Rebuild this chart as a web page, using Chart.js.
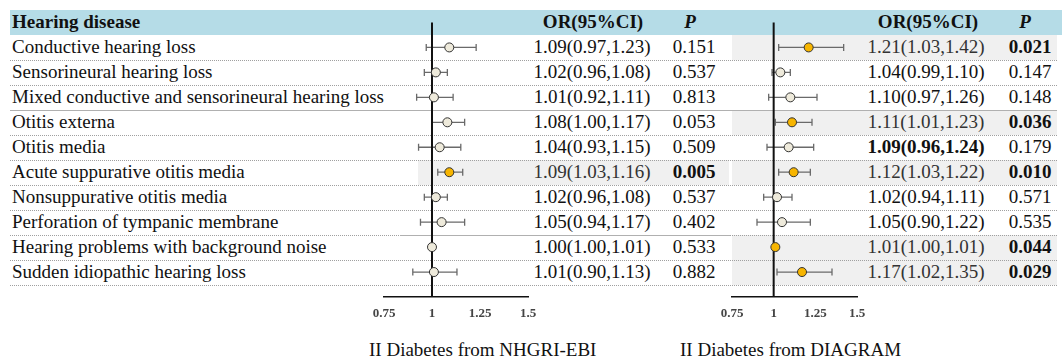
<!DOCTYPE html>
<html>
<head>
<meta charset="utf-8">
<script src="https://cdn.jsdelivr.net/npm/chart.js@4.4.1/dist/chart.umd.min.js"></script>
<style>
  body { margin: 0; background: #fff; }
  #wrap { position: relative; width: 1062px; height: 358px; overflow: hidden;
          font-family: "Liberation Serif", "Times New Roman", serif; color: #111; }
  #wrap div, #wrap span { position: absolute; }
  canvas { position: absolute; top: 0; }
  .txt { font-size: 19px; white-space: nowrap; }
</style>
</head>
<body>
<div id="wrap">
  <canvas id="leftChart" width="204" height="330" style="left:354px"></canvas>
  <canvas id="rightChart" width="165" height="330" style="left:712px"></canvas>
</div>
<script>
var diseases = [
  'Conductive hearing loss',
  'Sensorineural hearing loss',
  'Mixed conductive and sensorineural hearing loss',
  'Otitis externa',
  'Otitis media',
  'Acute suppurative otitis media',
  'Nonsuppurative otitis media',
  'Perforation of tympanic membrane',
  'Hearing problems with background noise',
  'Sudden idiopathic hearing loss'
];

// II Diabetes from NHGRI-EBI
var orLeft = [1.09, 1.02, 1.01, 1.08, 1.04, 1.09, 1.02, 1.05, 1.00, 1.01];
var loLeft = [0.97, 0.96, 0.92, 1.00, 0.93, 1.03, 0.96, 0.94, 1.00, 0.90];
var hiLeft = [1.23, 1.08, 1.11, 1.17, 1.15, 1.16, 1.08, 1.17, 1.01, 1.13];
var pLeft  = [0.151, 0.537, 0.813, 0.053, 0.509, 0.005, 0.537, 0.402, 0.533, 0.882];

// II Diabetes from DIAGRAM
var orRight = [1.21, 1.04, 1.10, 1.11, 1.09, 1.12, 1.02, 1.05, 1.01, 1.17];
var loRight = [1.03, 0.99, 0.97, 1.01, 0.96, 1.03, 0.94, 0.90, 1.00, 1.02];
var hiRight = [1.42, 1.10, 1.26, 1.23, 1.24, 1.22, 1.11, 1.22, 1.01, 1.35];
var pRight  = [0.021, 0.147, 0.148, 0.036, 0.179, 0.010, 0.571, 0.535, 0.044, 0.029];

var tickValues = [0.75, 1, 1.25, 1.5];
var tickLabels = ['0.75', '1', '1.25', '1.5'];
var titles = ['II Diabetes from NHGRI-EBI', 'II Diabetes from DIAGRAM'];

var ROWH = 24.96, TOP = 10;
var wrap = document.getElementById('wrap');

function add(styles, text, cls) {
  var d = document.createElement('div');
  if (cls) d.className = cls;
  for (var k in styles) d.style[k] = styles[k];
  if (text !== undefined) d.textContent = text;
  wrap.insertBefore(d, wrap.querySelector('canvas'));
  return d;
}
function rowTop(k) { return TOP + k * ROWH; }
function centered(cx, k, text, extra) {
  var s = { left: (cx - 100) + 'px', width: '200px', textAlign: 'center',
            top: rowTop(k) + 'px', height: ROWH + 'px', lineHeight: ROWH + 'px' };
  for (var e in extra || {}) s[e] = extra[e];
  return add(s, text, 'txt');
}

// header band
add({ left: '10px', top: TOP + 'px', width: '1052px', height: ROWH + 'px', background: '#b5dce7' });

// highlighted rows
pLeft.forEach(function (p, i) {
  if (p < 0.05) add({ left: '418px', width: '311px', top: rowTop(i + 1) + 'px', height: ROWH + 'px', background: '#f0f0f0' });
});
pRight.forEach(function (p, i) {
  if (p < 0.05) add({ left: '732px', width: '325px', top: rowTop(i + 1) + 'px', height: ROWH + 'px', background: '#f0f0f0' });
});

// row separators
for (var r = 1; r <= 10; r++) {
  var y = Math.round(rowTop(r + 1)) + 'px';
  if (r === 3) {
    add({ left: '10px', width: '1047px', top: y, borderTop: '1px solid #b0b0b0' });
  } else if (r === 8) {
    add({ left: '10px', width: '1047px', top: y, borderTop: '1px dotted #a0a0a0' });
    add({ left: '400px', width: '330px', top: y, borderTop: '1px solid #b0b0b0' });
  } else {
    add({ left: '10px', width: '1047px', top: y, borderTop: '1px dotted #a0a0a0' });
  }
}

// header texts
add({ left: '12px', top: rowTop(0) + 'px', lineHeight: ROWH + 'px', fontWeight: 'bold' }, 'Hearing disease', 'txt');
centered(593, 0, 'OR(95%CI)', { fontWeight: 'bold' });
centered(690, 0, 'P', { fontWeight: 'bold', fontStyle: 'italic' });
centered(928, 0, 'OR(95%CI)', { fontWeight: 'bold' });
centered(1025, 0, 'P', { fontWeight: 'bold', fontStyle: 'italic' });

function orText(o, l, h) { return o.toFixed(2) + '(' + l.toFixed(2) + ',' + h.toFixed(2) + ')'; }

diseases.forEach(function (name, i) {
  add({ left: '12px', top: rowTop(i + 1) + 'px', lineHeight: ROWH + 'px' }, name, 'txt');
  var sl = pLeft[i] < 0.05, sr = pRight[i] < 0.05;
  centered(592, i + 1, orText(orLeft[i], loLeft[i], hiLeft[i]), sl ? { color: '#333' } : {});
  centered(694, i + 1, pLeft[i].toFixed(3), sl ? { fontWeight: 'bold' } : {});
  centered(926, i + 1, orText(orRight[i], loRight[i], hiRight[i]),
           sr ? { color: '#333' } : (i === 4 ? { fontWeight: 'bold' } : {}));
  centered(1030, i + 1, pRight[i].toFixed(3), sr ? { fontWeight: 'bold' } : {});
});

// panel titles
add({ left: '369px', width: '200px', textAlign: 'center', top: '338px', lineHeight: '24px' }, titles[0], 'txt');
add({ left: '680px', width: '200px', textAlign: 'center', top: '338px', lineHeight: '24px' }, titles[1], 'txt');

var errorBars = {
  id: 'errorBars',
  beforeDatasetsDraw: function (chart, args, opts) {
    var ctx = chart.ctx, xs = chart.scales.x, ys = chart.scales.y;
    ctx.save();
    ctx.strokeStyle = '#6a6a6a';
    ctx.lineWidth = 1.3;
    opts.lo.forEach(function (l, i) {
      var py = ys.getPixelForValue(i + 1);
      var x1 = xs.getPixelForValue(l), x2 = xs.getPixelForValue(opts.hi[i]);
      ctx.beginPath();
      ctx.moveTo(x1, py); ctx.lineTo(x2, py);
      ctx.moveTo(x1, py - 3.5); ctx.lineTo(x1, py + 3.5);
      ctx.moveTo(x2, py - 3.5); ctx.lineTo(x2, py + 3.5);
      ctx.stroke();
    });
    ctx.restore();
  }
};

function ForestChart(id, or, lo, hi, p, pad) {
  this.ctx = document.getElementById(id);
  var pts = or.map(function (v, i) { return { x: v, y: i + 1 }; });
  var fills = p.map(function (v) { return v < 0.05 ? '#f7b500' : '#eeeadb'; });
  this.chart = new Chart(this.ctx, {
    type: 'scatter',
    data: {
      datasets: [{
        data: pts,
        pointRadius: 4.5,
        pointBackgroundColor: fills,
        pointBorderColor: '#333',
        pointBorderWidth: 1,
        order: 0,
        clip: false
      }, {
        type: 'line',
        data: [{ x: 1, y: 0 }, { x: 1, y: 11 }],
        borderColor: '#111',
        borderWidth: 2,
        pointRadius: 0,
        order: 1,
        clip: false
      }]
    },
    options: {
      responsive: false,
      animation: false,
      layout: { padding: { left: pad, right: pad, top: TOP, bottom: 0 } },
      plugins: {
        legend: { display: false },
        tooltip: { enabled: false },
        errorBars: { lo: lo, hi: hi }
      },
      scales: {
        x: {
          type: 'linear', min: 0.75, max: 1.5,
          afterBuildTicks: function (s) { s.ticks = tickValues.map(function (v) { return { value: v }; }); },
          afterFit: function (s) { s.height = 33; },
          ticks: {
            autoSkip: false, maxRotation: 0, padding: 1, color: '#444',
            font: { family: '"Liberation Serif", serif', size: 13, weight: 'bold' },
            callback: function (v, i) { return tickLabels[i]; }
          },
          grid: { display: false },
          border: { display: true, color: '#111', width: 1.5 }
        },
        y: { type: 'linear', min: -0.5, max: 11, reverse: true, display: false }
      }
    },
    plugins: [errorBars]
  });
}

var leftForest = new ForestChart('leftChart', orLeft, loLeft, hiLeft, pLeft, 30);
var rightForest = new ForestChart('rightChart', orRight, loRight, hiRight, pRight, 20);
</script>
</body>
</html>
